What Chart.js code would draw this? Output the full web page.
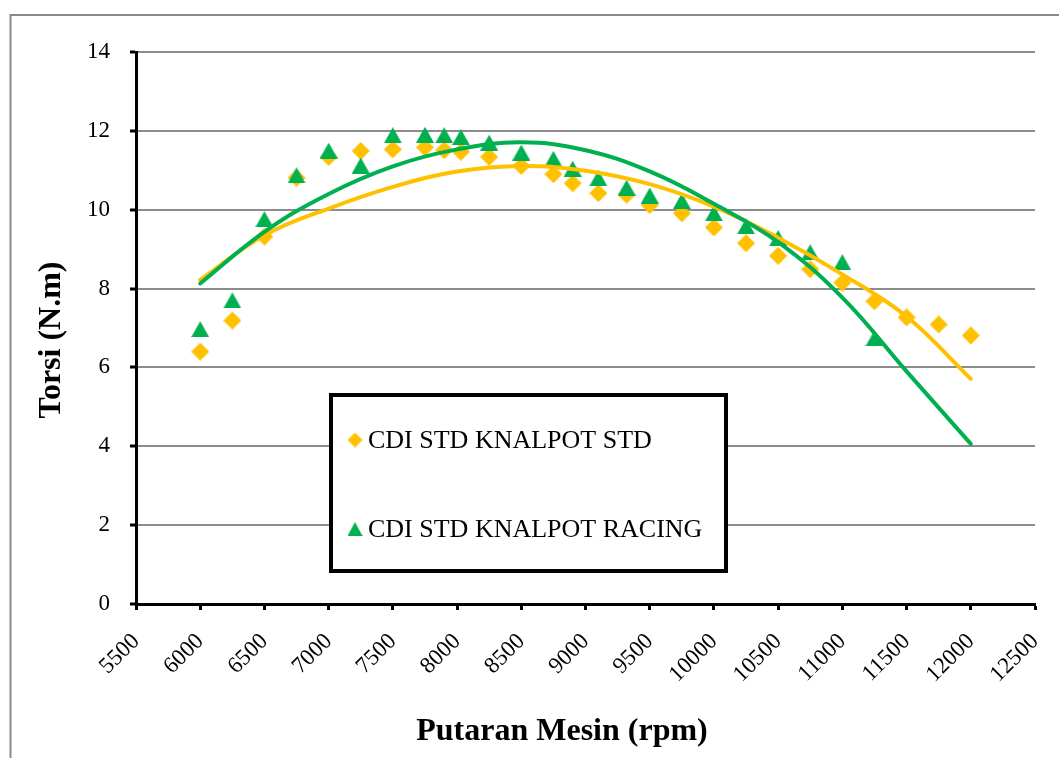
<!DOCTYPE html>
<html>
<head>
<meta charset="utf-8">
<script src="https://cdn.jsdelivr.net/npm/chart.js@4.4.1/dist/chart.umd.min.js"></script>
<style>
html,body{margin:0;padding:0;background:#fff;}
canvas{display:block;}
</style>
</head>
<body>
<canvas id="c" width="1059" height="758"></canvas>
<script>
// ---- data ----
const seriesNames = ['CDI STD KNALPOT STD', 'CDI STD KNALPOT RACING'];
const rpmStd = [6000,6250,6500,6750,7000,7250,7500,7750,7900,8030,8250,8500,8750,8900,9100,9320,9500,9750,10000,10250,10500,10750,11000,11250,11500,11750,12000];
const torsiStd = [6.40,7.19,9.32,10.81,11.34,11.49,11.53,11.58,11.51,11.47,11.34,11.11,10.90,10.67,10.42,10.38,10.12,9.91,9.55,9.15,8.83,8.49,8.15,7.68,7.27,7.09,6.81];
const rpmRacing = [6000,6250,6500,6750,7000,7250,7500,7750,7900,8030,8250,8500,8750,8900,9100,9320,9500,9750,10000,10250,10500,10750,11000,11250];
const torsiRacing = [6.97,7.70,9.76,10.87,11.50,11.12,11.89,11.90,11.89,11.84,11.70,11.45,11.29,11.04,10.80,10.56,10.36,10.22,9.91,9.58,9.28,8.92,8.67,6.74];
const trendRpm = [6000,6500,7000,7500,8000,8500,9000,9500,10000,10500,11000,11500,12000];
const trendStd = [8.22,9.35,10.03,10.58,10.97,11.11,10.99,10.65,10.08,9.29,8.36,7.29,5.71];
const trendRacing = [8.13,9.44,10.40,11.10,11.53,11.71,11.51,10.97,10.15,9.18,7.77,5.90,4.06];
const xTickValues = [5500,6000,6500,7000,7500,8000,8500,9000,9500,10000,10500,11000,11500,12000,12500];
const yTickValues = [0,2,4,6,8,10,12,14];
const xTitle = 'Putaran Mesin (rpm)';
const yTitle = 'Torsi (N.m)';

const YELLOW = '#FFC000';
const GREEN = '#00B050';
const SERIF = '"Liberation Serif", "Times New Roman", serif';

function pts(xs, ys){ return xs.map((x,i)=>({x:x, y:ys[i]})); }

function makeDiamond(size, color){
  const c = document.createElement('canvas');
  c.width = size; c.height = size;
  const g = c.getContext('2d');
  g.fillStyle = color;
  g.beginPath();
  g.moveTo(size/2, 0); g.lineTo(size, size/2); g.lineTo(size/2, size); g.lineTo(0, size/2);
  g.closePath(); g.fill();
  return c;
}
function makeTriangle(w, h, color){
  const c = document.createElement('canvas');
  c.width = w; c.height = h;
  const g = c.getContext('2d');
  g.fillStyle = color;
  g.beginPath();
  g.moveTo(w/2, 0); g.lineTo(w, h); g.lineTo(0, h);
  g.closePath(); g.fill();
  return c;
}
const diamondImg = makeDiamond(18, YELLOW);
const triangleImg = makeTriangle(18, 16, GREEN);
const diamondSmall = makeDiamond(15, YELLOW);
const triangleSmall = makeTriangle(15, 14, GREEN);

const framePlugin = {
  id: 'frame',
  beforeDraw(chart){
    const ctx = chart.ctx;
    ctx.save();
    ctx.fillStyle = '#fff';
    ctx.fillRect(0,0,chart.width,chart.height);
    ctx.strokeStyle = '#8a8a8a';
    ctx.lineWidth = 2;
    ctx.beginPath();
    ctx.moveTo(10.5, chart.height);
    ctx.lineTo(10.5, 15);
    ctx.lineTo(chart.width, 15);
    ctx.stroke();
    ctx.restore();
  }
};

const titlePlugin = {
  id: 'titles',
  afterDraw(chart){
    const ctx = chart.ctx;
    ctx.save();
    ctx.fillStyle = '#000';
    ctx.font = 'bold 32px ' + SERIF;
    ctx.textAlign = 'center';
    ctx.textBaseline = 'alphabetic';
    ctx.fillText(xTitle, 562, 740);
    ctx.translate(60, 340);
    ctx.rotate(-Math.PI/2);
    ctx.fillText(yTitle, 0, 0);
    ctx.restore();
  }
};

const legendPlugin = {
  id: 'boxLegend',
  afterDraw(chart){
    const ctx = chart.ctx;
    ctx.save();
    ctx.fillStyle = '#fff';
    ctx.fillRect(331, 395, 395, 176);
    ctx.strokeStyle = '#000';
    ctx.lineWidth = 4;
    ctx.strokeRect(331, 395, 395, 176);
    const rows = [
      {img: diamondSmall, y: 440, text: seriesNames[0]},
      {img: triangleSmall, y: 529, text: seriesNames[1]}
    ];
    ctx.font = '26px ' + SERIF;
    ctx.fillStyle = '#000';
    ctx.textAlign = 'left';
    ctx.textBaseline = 'middle';
    rows.forEach(r=>{
      ctx.drawImage(r.img, 355 - r.img.width/2, r.y - r.img.height/2);
      ctx.fillText(r.text, 368, r.y + 1);
    });
    ctx.restore();
  }
};

new Chart(document.getElementById('c'), {
  type: 'scatter',
  data: {
    datasets: [
      {label: seriesNames[0], data: pts(rpmStd, torsiStd), pointStyle: diamondImg, pointRadius: 9, pointHoverRadius: 9, backgroundColor: YELLOW, borderColor: YELLOW, order: 3},
      {label: seriesNames[1], data: pts(rpmRacing, torsiRacing), pointStyle: triangleImg, pointRadius: 9, pointHoverRadius: 9, backgroundColor: GREEN, borderColor: GREEN, order: 2},
      {type: 'line', label: 'trend std', data: pts(trendRpm, trendStd), showLine: true, borderColor: YELLOW, borderWidth: 4, pointRadius: 0, tension: 0.4, borderCapStyle: 'round', fill: false, order: 1},
      {type: 'line', label: 'trend racing', data: pts(trendRpm, trendRacing), showLine: true, borderColor: GREEN, borderWidth: 4, pointRadius: 0, tension: 0.4, borderCapStyle: 'round', fill: false, order: 0}
    ]
  },
  options: {
    responsive: false,
    animation: false,
    devicePixelRatio: 1,
    layout: {padding: {left: 0, right: 24, top: 52, bottom: 0}},
    plugins: {legend: {display: false}, tooltip: {enabled: false}, title: {display: false}},
    scales: {
      x: {
        type: 'linear', min: 5500, max: 12500,
        afterBuildTicks(scale){ scale.ticks = xTickValues.map(v=>({value:v})); },
        afterFit(scale){ scale.height = 154; scale.paddingRight = 0; scale.paddingLeft = 0; },
        ticks: {autoSkip: false, maxRotation: 45, minRotation: 45, padding: 18, color: '#000',
                font: {family: SERIF, size: 23}, callback: v => String(v)},
        grid: {drawOnChartArea: false, drawTicks: true, tickLength: 6, tickWidth: 3, tickColor: '#000'},
        border: {display: true, color: '#000', width: 3}
      },
      y: {
        type: 'linear', min: 0, max: 14,
        afterBuildTicks(scale){ scale.ticks = yTickValues.map(v=>({value:v})); },
        afterFit(scale){ scale.width = 136; scale.paddingTop = 0; scale.paddingBottom = 0; },
        ticks: {padding: 20, color: '#000', font: {family: SERIF, size: 23}, callback: v => String(v)},
        grid: {color: '#8c8c8c', lineWidth: 2, drawTicks: true, tickLength: 6, tickWidth: 3, tickColor: '#000'},
        border: {display: true, color: '#000', width: 3}
      }
    }
  },
  plugins: [framePlugin, titlePlugin, legendPlugin]
});
</script>
</body>
</html>
